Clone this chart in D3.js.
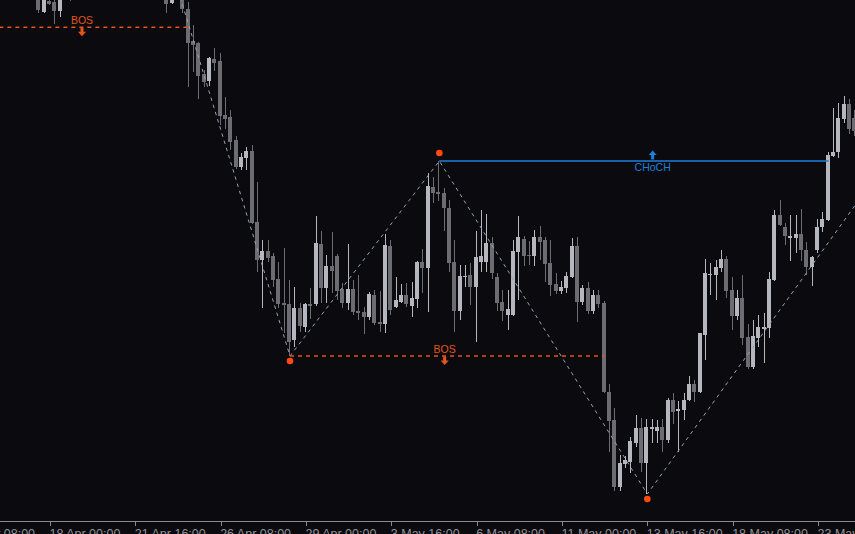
<!DOCTYPE html>
<html><head><meta charset="utf-8">
<script src="https://cdn.jsdelivr.net/npm/d3@7/dist/d3.min.js"></script>
<style>html,body{margin:0;padding:0;background:#0b0b0f;overflow:hidden}</style>
</head><body><svg id="c" width="855" height="534"></svg>
<script>
// bar slots (H4 bars); bars 14-30 lie entirely above the visible window
const bars = [7,8,9,10,11,12,13].concat(d3.range(31,161));
const open = [608,588,599,598,589,620,610,
603,597,602,602,591,559,557,526,519,541,
539,485,483,460,433,442,449,378,340,349,
344,321,297,296,260,292,273,296,296,356,
312,334,344,311,297,311,289,288,283,305,
278,276,354,293,298,305,294,301,338,332,
413,408,407,392,338,289,323,325,313,338,
338,357,323,298,285,285,348,361,345,344,
363,360,337,316,309,312,323,354,298,312,
289,305,297,208,180,113,136,138,157,172,
137,171.5,169.5,173,160,200,189.5,190,200,216,
208,265,325,325,332,341,310,284,302,263,
233,262,271,272,320,385,373,362,362,366,
350,333,350,373,380,444,448,481,496,482];
const high = [615,606,603,604,608,625,615,
608,608,610,605,598,575,558,530,543,552,
547,503,490,464,447,453,455,418,360,360,
347,338,352,320,313,297,297,312,384,369,
345,368,346,317,356,320,325,293,308,310,
309,366,360,323,316,317,318,339,351,427,
423,439,412,400,360,335,335,337,369,390,
386,363,327,310,310,360,384,364,359,370,
374,363,360,327,319,328,362,363,315,318,
310,310,299,216,192,145,144,163,185,182,
181,181,180,181,202,207,199,207,224,220,
267,341,337,340,350,344,323,310,325,276,
280,285,287,328,390,400,377,385,385,391,
358,344,381,388,448,492,497,504,501,490];
const low = [587,587,595,576,583,606,599,
587,596,601,587,513,528,501,513,514,529,
475,471,450,431,430,430,376,328,292,338,
313,292,267,244,253,268,268,281,294,297,
297,307,300,292,290,285,280,266,280,275,
268,267,285,292,297,293,283,292,307,288,
397,399,369,328,268,280,313,295,258,328,
328,321,289,279,270,284,300,334,335,334,
340,318,304,306,306,307,322,278,295,286,
286,292,207,148,109,109,132,127,153,128,
106,157,157,148,157,176,148,180,199,198,
207,240,305,300,328,302,270,280,255,231,
231,253,237,262,319,374,355,339,347,339,
325,314,347,368,379,443,442,477,466,464];
const close = [590,602,596,589,604,612,604,
596,603,608,591,557,555,524,518,542,537,
484,481,458,433,443,449,377,340,349,342,
320,296,295,258,292,274,296,294,357,312,
334,329,309,297,311,288,287,283,306,277,
276,355,290,300,305,296,302,338,332,414,
407,406,392,337,289,324,324.5,313,343,344,
357,327,297,289,291,349,363,344,344,363,
358,336,315,309,313,324,354,298,312,289,
305,296,208,179,113,137,140,159,172,137,
173,173,173,160,200,188,191,200,216,208,
267,327,326.5,333,341,309,284,302,262,233,
264,273,273,321,385,375,364,364,366,350,
333,343,373,381,445,448,482,496,471,469];

const tickBars = [-7,9,25,41,57,73,89,105,121,137,153];
const tickLabels = ["15 Apr 08:00","18 Apr 00:00","21 Apr 16:00","26 Apr 08:00","29 Apr 00:00","3 May 16:00","6 May 08:00","11 May 00:00","13 May 16:00","18 May 08:00","23 May 00:00"];

// zigzag swing points
const zigBars = [33,54,82,121,160];
const zigPrices = [610,244,439,106,395];
const zigTypes = ["H","L","H","L","open"];

// market structure breaks
const structNames = ["BOS","BOS","CHoCH"];
const structLevels = [572.7,244,439];
const structFrom = [-5,54,82];
const structTo = [35,113,155];
const structLabelBar = [15,83,122];
const structDir = ["down","down","up"];

const W=855,H=534,plotBottom=521.5;
const x = d3.scaleLinear().domain([0,160]).range([2,855.333]);
const y = d3.scaleLinear().domain([100,600]).range([500,0]);

const svg = d3.select("#c");
svg.append("rect").attr("width",W).attr("height",H).attr("fill","#0b0b0f");
svg.append("defs").append("clipPath").attr("id","clip").append("rect").attr("width",W).attr("height",plotBottom);
const g = svg.append("g").attr("clip-path","url(#clip)");

const BULL="#b6b6be", BEAR="#6c6c72";
const candles = bars.map((b,k)=>({b,o:open[k],h:high[k],l:low[k],c:close[k]}));
const cg = g.append("g").attr("shape-rendering","crispEdges");
cg.selectAll("rect.w").data(candles).join("rect").attr("class","w")
  .attr("x",d=>Math.round(x(d.b))-1).attr("width",1)
  .attr("y",d=>y(d.h)).attr("height",d=>Math.max(1,y(d.l)-y(d.h)))
  .attr("fill",d=>d.c>=d.o?BULL:BEAR);
cg.selectAll("rect.b").data(candles).join("rect").attr("class","b")
  .attr("x",d=>Math.round(x(d.b))-3).attr("width",4)
  .attr("y",d=>y(Math.max(d.o,d.c))).attr("height",d=>Math.max(1,Math.abs(y(d.o)-y(d.c))))
  .attr("fill",d=>d.c>=d.o?BULL:BEAR);

// zigzag
const zig = zigBars.map((b,k)=>({b,p:zigPrices[k],t:zigTypes[k]}));
g.append("path").datum(zig)
  .attr("d",d3.line().x(d=>x(d.b)).y(d=>y(d.p)))
  .attr("fill","none").attr("stroke","#93a3b4").attr("stroke-width",1).attr("stroke-dasharray","3.5,4");

// structure lines
const ORANGE="#e4541c", BLUE="#1f7fd9";
structNames.forEach((nm,k)=>{
  const col = nm==="BOS"?ORANGE:BLUE;
  const ly = y(structLevels[k]);
  const ln = g.append("line").attr("x1",x(structFrom[k])).attr("x2",x(structTo[k]))
    .attr("y1",ly).attr("y2",ly).attr("stroke",col).attr("stroke-width",1.4);
  if(nm==="BOS") ln.attr("stroke-dasharray","4,4");
  const cx = x(structLabelBar[k]);
  let p;
  if(structDir[k]==="down"){
    const t=ly+0.5;
    p=`M${cx-1.5},${t}H${cx+1.5}V${t+4}H${cx+4}L${cx},${t+8.5}L${cx-4},${t+4}H${cx-1.5}Z`;
    g.append("text").attr("x",cx).attr("y",ly-3).attr("text-anchor","middle")
      .attr("font-family","Liberation Sans, Arial, sans-serif").attr("font-size",10.5).attr("fill",col).text(nm);
  } else {
    const b=ly-1.5;
    p=`M${cx-1.5},${b}H${cx+1.5}V${b-4.5}H${cx+4}L${cx},${b-9}L${cx-4},${b-4.5}H${cx-1.5}Z`;
    g.append("text").attr("x",cx).attr("y",ly+9.7).attr("text-anchor","middle")
      .attr("font-family","Liberation Sans, Arial, sans-serif").attr("font-size",10.5).attr("fill",col).text(nm);
  }
  g.append("path").attr("d",p).attr("fill",col);
});

// swing dots
g.selectAll("circle").data(zig.filter(d=>d.t!=="open")).join("circle")
  .attr("cx",d=>x(d.b)).attr("cy",d=>d.t==="H"?y(d.p)-8:y(d.p)+5)
  .attr("r",3.3).attr("fill","#ff4a10");

// time axis
const ax = svg.append("g").attr("transform",`translate(0,${plotBottom})`)
  .call(d3.axisBottom(x).tickValues(tickBars).tickFormat((d,i)=>tickLabels[i]).tickSize(4).tickSizeOuter(0));
ax.select(".domain").remove();
ax.selectAll(".tick line").attr("stroke","#8a8a90").attr("shape-rendering","crispEdges");
ax.selectAll(".tick text").attr("text-anchor","start").attr("x",-1).attr("y",16.5).attr("dy",0)
  .attr("fill","#909096").attr("font-family","Liberation Sans, Arial, sans-serif").attr("font-size",12.5);
ax.append("line").attr("x1",0).attr("x2",W).attr("y1",0).attr("y2",0)
  .attr("stroke","#8a8a90").attr("shape-rendering","crispEdges");
</script></body></html>
